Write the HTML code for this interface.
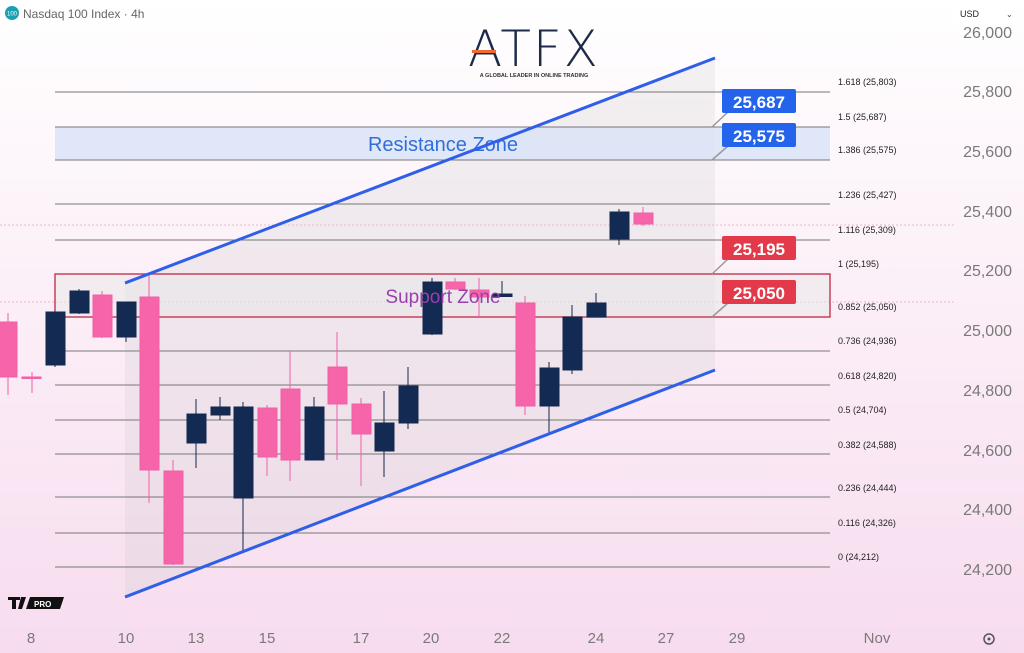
<!DOCTYPE html>
<html><head><meta charset="utf-8"><style>
html,body{margin:0;padding:0}
body{width:1024px;height:653px;overflow:hidden;background:linear-gradient(#ffffff 0%,#fcf1f8 40%,#f7dcef 100%);font-family:"Liberation Sans",sans-serif}
</style></head><body>
<svg width="1024" height="653" viewBox="0 0 1024 653" xmlns="http://www.w3.org/2000/svg" style="position:absolute;left:0;top:0">
<polygon points="125,283 715,58 715,370 125,597" fill="#c8c8c8" fill-opacity="0.22"/>
<line x1="0" y1="225" x2="955" y2="225" stroke="#e8b8c8" stroke-dasharray="2,2" stroke-width="1"/>
<line x1="0" y1="302" x2="955" y2="302" stroke="#e8b8c8" stroke-dasharray="2,2" stroke-width="1"/>
<rect x="55" y="127" width="775" height="33" fill="#dae4f7" fill-opacity="0.85"/>
<rect x="55" y="274" width="775" height="43" fill="#e8e8e8" fill-opacity="0.5" stroke="#c8405a" stroke-width="1.5"/>
<g stroke="#777" stroke-width="1">
<line x1="55" y1="92" x2="830" y2="92"/><line x1="55" y1="127" x2="830" y2="127"/><line x1="55" y1="160" x2="830" y2="160"/>
<line x1="55" y1="204" x2="830" y2="204"/><line x1="55" y1="240" x2="830" y2="240"/>
<line x1="55" y1="351" x2="830" y2="351"/><line x1="55" y1="385" x2="830" y2="385"/><line x1="55" y1="420" x2="830" y2="420"/>
<line x1="55" y1="454" x2="830" y2="454"/><line x1="55" y1="497" x2="830" y2="497"/><line x1="55" y1="533" x2="830" y2="533"/><line x1="55" y1="567" x2="830" y2="567"/>
</g>
<g font-size="9" fill="#222">
<text x="838" y="85">1.618 (25,803)</text><text x="838" y="120">1.5 (25,687)</text><text x="838" y="153">1.386 (25,575)</text>
<text x="838" y="198">1.236 (25,427)</text><text x="838" y="233">1.116 (25,309)</text><text x="838" y="267">1 (25,195)</text>
<text x="838" y="310">0.852 (25,050)</text><text x="838" y="344">0.736 (24,936)</text><text x="838" y="379">0.618 (24,820)</text>
<text x="838" y="413">0.5 (24,704)</text><text x="838" y="448">0.382 (24,588)</text><text x="838" y="491">0.236 (24,444)</text>
<text x="838" y="526">0.116 (24,326)</text><text x="838" y="560">0 (24,212)</text>
</g>
<text x="443" y="151" font-size="20" fill="#2f6fdc" text-anchor="middle">Resistance Zone</text>
<g stroke-width="1">
<g stroke="#f060a8" fill="#f665aa">
<line x1="8" y1="313" x2="8" y2="395"/><rect x="-2" y="322" width="19" height="55"/>
<line x1="32" y1="372" x2="32" y2="393"/><rect x="22" y="377" width="19" height="1.5"/>
<line x1="102" y1="291" x2="102" y2="338"/><rect x="93" y="295" width="19" height="42"/>
<line x1="149" y1="275" x2="149" y2="503"/><rect x="140" y="297" width="19" height="173"/>
<line x1="173" y1="460" x2="173" y2="565"/><rect x="164" y="471" width="19" height="93"/>
<line x1="267" y1="405" x2="267" y2="476"/><rect x="258" y="408" width="19" height="49"/>
<line x1="290" y1="351" x2="290" y2="481"/><rect x="281" y="389" width="19" height="71"/>
<line x1="337" y1="332" x2="337" y2="460"/><rect x="328" y="367" width="19" height="37"/>
<line x1="361" y1="398" x2="361" y2="486"/><rect x="352" y="404" width="19" height="30"/>
<line x1="455" y1="278" x2="455" y2="290"/><rect x="446" y="282" width="19" height="7"/>
<line x1="479" y1="278" x2="479" y2="318"/><rect x="470" y="290" width="19" height="7"/>
<line x1="525" y1="296" x2="525" y2="415"/><rect x="516" y="303" width="19" height="103"/>
<line x1="643" y1="207" x2="643" y2="226"/><rect x="634" y="213" width="19" height="11"/>
</g>
<g stroke="#14284d" fill="#132a52">
<line x1="55" y1="312" x2="55" y2="367"/><rect x="46" y="312" width="19" height="53"/>
<line x1="79" y1="289" x2="79" y2="314"/><rect x="70" y="291" width="19" height="22"/>
<line x1="126" y1="302" x2="126" y2="342"/><rect x="117" y="302" width="19" height="35"/>
<line x1="196" y1="399" x2="196" y2="468"/><rect x="187" y="414" width="19" height="29"/>
<line x1="220" y1="397" x2="220" y2="420"/><rect x="211" y="407" width="19" height="8"/>
<line x1="243" y1="402" x2="243" y2="551"/><rect x="234" y="407" width="19" height="91"/>
<line x1="314" y1="397" x2="314" y2="460"/><rect x="305" y="407" width="19" height="53"/>
<line x1="384" y1="391" x2="384" y2="477"/><rect x="375" y="423" width="19" height="28"/>
<line x1="408" y1="367" x2="408" y2="429"/><rect x="399" y="386" width="19" height="37"/>
<line x1="432" y1="278" x2="432" y2="335"/><rect x="423" y="282" width="19" height="52"/>
<line x1="502" y1="281" x2="502" y2="296"/><rect x="493" y="294" width="19" height="2.5"/>
<line x1="549" y1="362" x2="549" y2="435"/><rect x="540" y="368" width="19" height="38"/>
<line x1="572" y1="305" x2="572" y2="374"/><rect x="563" y="317" width="19" height="53"/>
<line x1="596" y1="293" x2="596" y2="317"/><rect x="587" y="303" width="19" height="14"/>
<line x1="619" y1="209" x2="619" y2="245"/><rect x="610" y="212" width="19" height="27"/>
</g>
</g>
<text x="443" y="303" font-size="19" fill="#9a3fae" text-anchor="middle">Support Zone</text>
<line x1="125" y1="283" x2="715" y2="58" stroke="#2f5ee8" stroke-width="3"/>
<line x1="125" y1="597" x2="715" y2="370" stroke="#2f5ee8" stroke-width="3"/>
<g stroke="#999" stroke-width="1.5">
<line x1="712" y1="127" x2="728" y2="112"/><line x1="712" y1="160" x2="728" y2="146"/>
<line x1="712" y1="274" x2="728" y2="259"/><line x1="712" y1="317" x2="728" y2="303"/>
</g>
<g font-size="17" font-weight="bold" fill="#fff" text-anchor="middle">
<rect x="722" y="89" width="74" height="24" rx="2" fill="#2463eb"/><text x="759" y="108">25,687</text>
<rect x="722" y="123" width="74" height="24" rx="2" fill="#2463eb"/><text x="759" y="142">25,575</text>
<rect x="722" y="236" width="74" height="24" rx="2" fill="#e23a4a"/><text x="759" y="255">25,195</text>
<rect x="722" y="280" width="74" height="24" rx="2" fill="#e23a4a"/><text x="759" y="299">25,050</text>
</g>
<g font-size="16" fill="#7a7a7a" text-anchor="end">
<text x="1012" y="38">26,000</text><text x="1012" y="97">25,800</text><text x="1012" y="157">25,600</text>
<text x="1012" y="217">25,400</text><text x="1012" y="276">25,200</text><text x="1012" y="336">25,000</text>
<text x="1012" y="396">24,800</text><text x="1012" y="456">24,600</text><text x="1012" y="515">24,400</text><text x="1012" y="575">24,200</text>
</g>
<rect x="954" y="4" width="62" height="20" rx="3" fill="#fff"/>
<text x="960" y="17" font-size="9" fill="#222">USD</text>
<text x="1006" y="17" font-size="8" fill="#444">⌄</text>
<g font-size="15" fill="#7a7a7a" text-anchor="middle">
<text x="31" y="643">8</text><text x="126" y="643">10</text><text x="196" y="643">13</text><text x="267" y="643">15</text>
<text x="361" y="643">17</text><text x="431" y="643">20</text><text x="502" y="643">22</text><text x="596" y="643">24</text>
<text x="666" y="643">27</text><text x="737" y="643">29</text><text x="877" y="643">Nov</text>
</g>
<circle cx="989" cy="639" r="5" fill="none" stroke="#555" stroke-width="1.5"/><circle cx="989" cy="639" r="1.5" fill="#555"/>
<circle cx="12" cy="13" r="7" fill="#1a9fb5"/><text x="12" y="15.5" font-size="6" fill="#fff" text-anchor="middle">100</text>
<text x="23" y="18" font-size="12" fill="#666">Nasdaq 100 Index · 4h</text>
<g transform="translate(8,597)"><path d="M0 0h12v3h-4v9h-4v-9h-4z M13 0h5l-4 12h-4z" fill="#111"/><path d="M22 0h34l-4 12h-34z" fill="#111"/><text x="26" y="10" font-size="8" font-weight="bold" fill="#fff">PRO</text></g>
<text x="534" y="66" font-size="50" fill="#1b2a48" text-anchor="middle" letter-spacing="2" style="font-family:'DejaVu Sans','Liberation Sans',sans-serif;font-weight:200">ATFX</text>
<rect x="472" y="50" width="24" height="3" fill="#ee6b2d"/>
<text x="534" y="77" font-size="5.5" fill="#333" text-anchor="middle" font-weight="bold">A GLOBAL LEADER IN ONLINE TRADING</text>
</svg>
</body></html>
